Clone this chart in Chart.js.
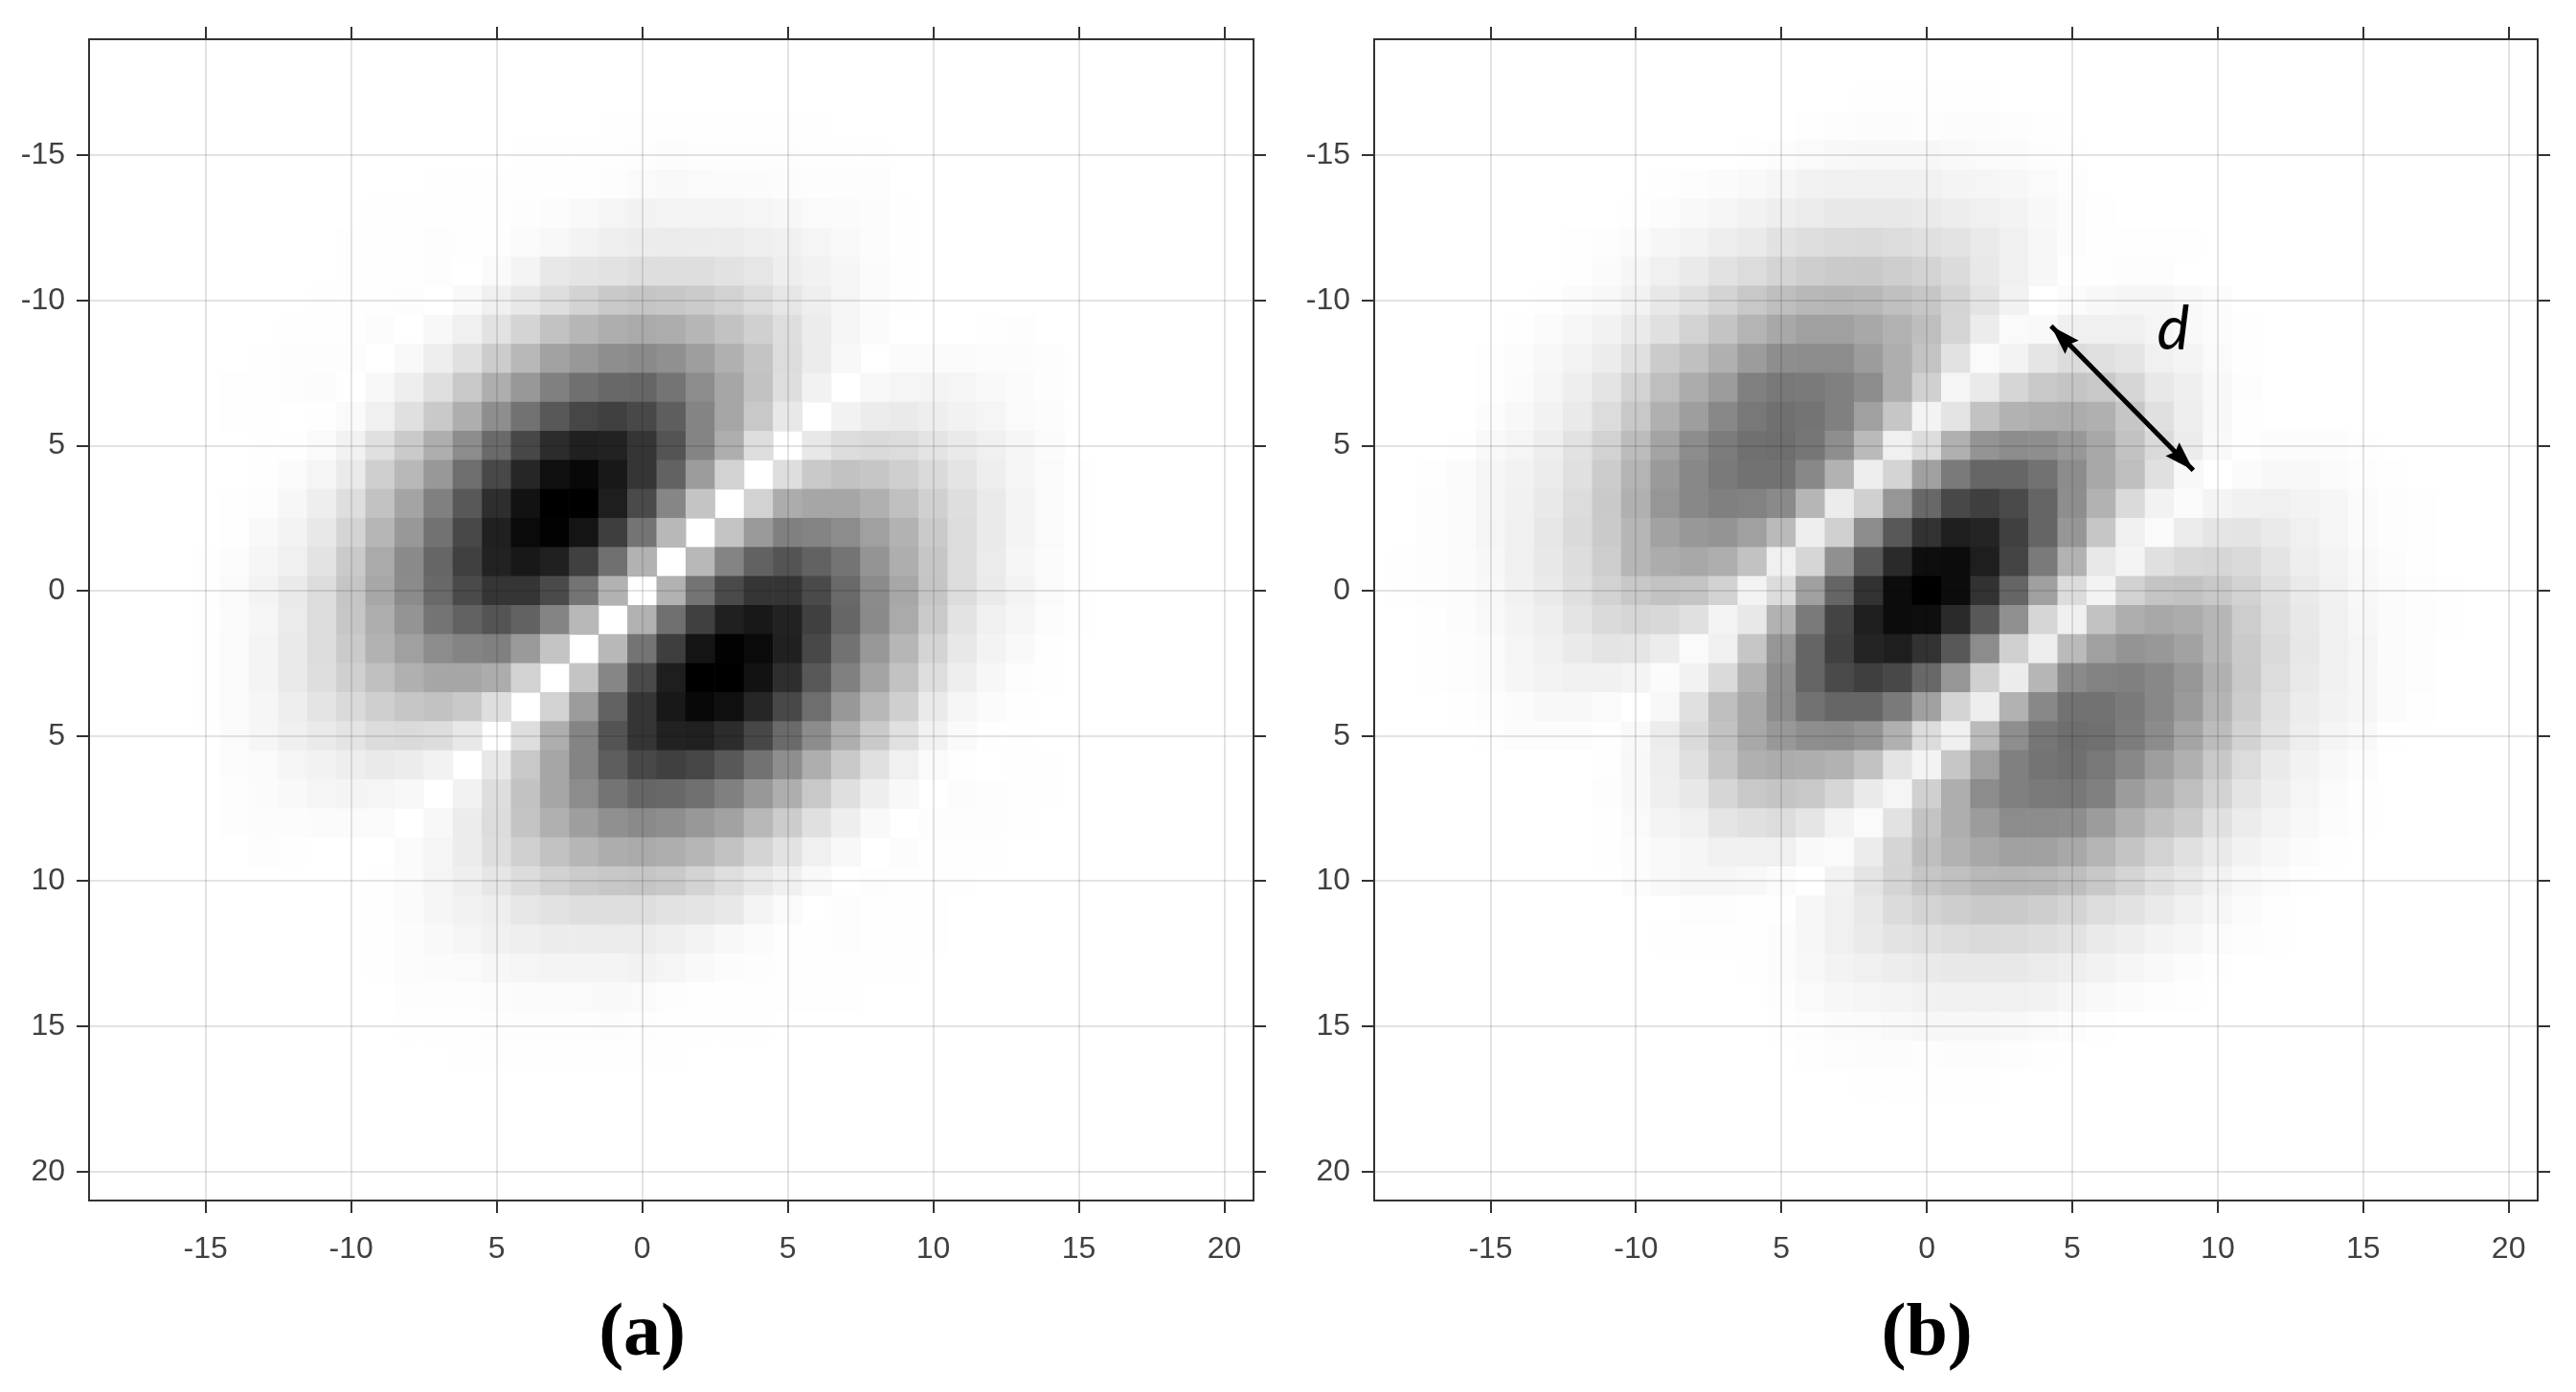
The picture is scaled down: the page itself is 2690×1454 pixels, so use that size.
<!DOCTYPE html>
<html>
<head>
<meta charset="utf-8">
<title>Panels a and b</title>
<script src="https://cdn.jsdelivr.net/npm/chart.js"></script>
<style>
    html, body { margin: 0; padding: 0; background: #fff; }
    canvas { position: absolute; top: 0; }
</style>
</head>
<body>
<canvas id="panelA" width="1345" height="1454" style="left:0"></canvas>
<canvas id="panelB" width="1345" height="1454" style="left:1345px"></canvas>
<script>
    // Axis ticks (the original figure prints 5 where -5 would be)
    var tickValues = [-15, -10, -5, 0, 5, 10, 15, 20];
    var tickLabels = ['-15', '-10', '5', '0', '5', '10', '15', '20'];
    var captions = ['(a)', '(b)'];

    // Row positions on the y axis
    var rowYA = [-16,-15,-14,-13,-12,-11,-10,-9,-8,-7,-6,-5,-4,-3,-2,-1,0,1,2,3,4,5,6,7,8,9,10,11,12,13,14,15,16];
    var rowYB = [-17,-16,-15,-14,-13,-12,-11,-10,-9,-8,-7,-6,-5,-4,-3,-2,-1,0,1,2,3,4,5,6,7,8,9,10,11,12,13,14,15,16,17];

    // x of the first cell in each row
    var rowStartA = [-1,-4,-7,-9,-10,-10,-11,-12,-13,-14,-14,-13,-13,-14,-14,-15,-15,-15,-15,-15,-15,-14,-14,-14,-14,-13,-9,-9,-9,-9,-8,-8,-6];
    var rowStartB = [-2,-4,-6,-9,-10,-12,-12,-13,-14,-15,-15,-15,-16,-17,-17,-17,-18,-18,-18,-17,-17,-16,-15,-11,-11,-11,-11,-10,-8,-9,-6,-5,-5,-4,-2];

    // Intensity of each cell (0 white, 255 black)
    var levelsA = [
        [1,1,1,1,1,1,1,1],
        [1,1,1,1,2,3,2,2,2,2,1,1,1],
        [1,1,1,1,1,1,2,5,6,5,4,4,3,2,2,2],
        [1,1,1,1,1,2,3,6,10,13,11,11,11,10,8,5,4,3,1],
        [1,1,1,2,1,1,4,7,12,16,19,20,19,19,16,14,10,6,3,1],
        [1,1,1,2,0,5,11,23,27,29,33,33,33,29,25,17,13,9,4,1],
        [1,1,1,2,0,6,15,23,33,44,54,58,56,52,45,35,25,16,10,4,1],
        [1,1,1,3,0,7,15,29,43,61,73,81,85,82,73,61,47,33,19,10,4,0,0,0,1,2],
        [1,2,2,2,0,6,17,31,51,71,93,103,113,117,111,97,79,59,35,19,7,0,4,4,4,3,3,2],
        [1,1,2,3,0,7,17,32,55,81,103,127,143,151,153,139,115,89,61,33,13,0,7,10,11,10,6,4,2],
        [1,1,0,1,5,15,31,54,81,113,141,167,185,191,183,161,123,89,55,23,0,13,19,21,17,13,10,5,3],
        [1,1,5,13,31,53,81,115,149,184,211,223,221,202,171,123,81,33,0,23,34,37,35,27,21,15,9,4],
        [1,4,10,21,48,71,103,145,183,217,240,247,231,202,157,100,45,0,33,54,61,57,48,37,27,17,9,5,1],
        [1,2,8,17,33,61,91,127,167,209,237,255,255,225,181,121,59,0,45,83,89,89,79,63,47,33,21,11,5,1],
        [1,6,12,23,43,73,103,141,183,223,245,253,235,193,139,71,0,59,101,127,123,115,95,77,53,35,21,11,5,1],
        [1,3,9,15,28,53,85,117,153,191,221,231,223,191,143,77,0,71,123,157,171,157,139,107,81,57,35,20,9,4,1],
        [1,5,12,21,35,58,88,116,150,181,202,202,181,139,77,0,77,139,181,202,202,181,150,116,88,58,35,21,12,5,1],
        [1,4,9,20,35,57,81,107,139,157,171,157,123,71,0,77,143,191,223,231,221,191,153,117,85,53,28,15,9,3,1],
        [1,5,11,21,35,53,77,95,115,123,127,101,59,0,71,139,193,235,253,245,223,183,141,103,73,43,23,12,6,1],
        [1,5,11,21,33,47,63,79,89,89,83,45,0,59,121,181,225,255,255,237,209,167,127,91,61,33,17,8,2,1],
        [1,5,9,17,27,37,48,57,61,54,33,0,45,100,157,202,231,247,240,217,183,145,103,71,48,21,10,4,1],
        [4,9,15,21,27,35,37,34,23,0,33,81,123,171,202,221,223,211,184,149,115,81,53,31,13,5,1,1],
        [3,5,10,13,17,21,19,13,0,23,55,89,123,161,183,191,185,167,141,113,81,54,31,15,5,1,0,1,1],
        [2,4,6,10,11,10,7,0,13,33,61,89,115,139,153,151,143,127,103,81,55,32,17,7,0,3,2,1,1],
        [2,3,3,4,4,4,0,7,19,35,59,79,97,111,117,113,103,93,71,51,31,17,6,0,2,2,2,1],
        [2,1,0,0,0,4,10,19,33,47,61,73,82,85,81,73,61,43,29,15,7,0,3,1,1,1],
        [1,4,10,16,25,35,45,52,56,58,54,44,33,23,15,6,0,2,1,1,1],
        [1,4,9,13,17,25,29,33,33,33,29,27,23,11,5,0,2,1,1,1],
        [1,3,6,10,14,16,19,19,20,19,16,12,7,4,1,1,2,1,1,1],
        [1,3,4,5,8,10,11,11,11,13,10,6,3,2,1,1,1,1,1],
        [2,2,2,3,4,4,5,6,5,2,1,1,1,1,1,1],
        [1,1,1,2,2,2,2,3,2,1,1,1,1],
        [1,1,1,1,1,1,1,1]
    ];
    var levelsB = [
        [1,1,1,1,1],
        [1,2,3,3,2,3,3,2,1],
        [1,3,5,7,8,8,8,6,5,4,2,1],
        [1,2,4,6,9,13,15,15,15,14,11,10,8,5,2],
        [1,3,6,9,13,17,20,23,23,23,21,18,15,12,7,3,1],
        [1,2,4,9,12,17,21,29,33,36,37,35,31,28,21,15,8,3,1,1,1,1],
        [1,4,9,15,21,29,35,43,49,53,54,49,44,36,23,15,8,1,1,2,2],
        [1,4,7,13,23,31,43,55,65,71,73,71,63,57,43,27,13,0,4,7,9,9,6,3],
        [1,4,8,13,21,31,45,59,75,87,95,95,87,77,65,42,19,5,6,15,15,15,10,6,3,1],
        [1,3,7,12,19,31,52,63,79,99,113,115,115,99,81,60,29,5,12,26,35,31,26,15,11,5,1],
        [1,4,10,17,27,45,65,83,99,127,135,133,127,115,81,47,10,21,41,55,59,55,41,23,16,7,2],
        [3,7,13,21,35,55,79,97,119,135,143,139,127,95,57,12,27,61,77,81,83,79,57,31,17,7,1],
        [1,6,10,17,29,45,67,91,115,131,143,145,137,113,69,15,35,79,107,115,113,103,87,61,37,19,6,1,3,3,3,1],
        [1,4,9,13,19,31,51,75,101,119,133,141,141,119,77,17,43,95,133,153,153,141,115,87,65,31,7,0,4,7,7,4,2,1],
        [2,4,9,14,22,35,54,79,105,119,127,125,117,73,19,47,105,151,183,192,181,154,113,77,37,13,4,11,14,15,12,9,4,2,1],
        [2,4,10,15,24,37,53,73,93,103,107,95,69,17,47,115,167,205,225,219,191,154,105,57,15,5,19,26,27,21,15,10,4,2,1],
        [1,2,4,8,15,23,34,50,73,83,87,81,61,15,41,111,167,213,241,243,225,187,133,77,23,11,31,39,41,37,27,17,12,6,3,1,0],
        [1,2,4,7,14,21,32,45,55,61,59,45,12,35,95,154,205,243,255,243,205,154,95,35,12,45,59,61,55,45,32,21,14,7,4,2,1],
        [0,1,3,6,12,17,27,37,41,39,31,11,23,77,133,187,225,243,241,213,167,111,41,15,61,81,87,83,73,50,34,23,15,8,4,2,1],
        [1,2,4,10,15,21,27,26,19,5,15,57,105,154,191,219,225,205,167,115,47,17,69,95,107,103,93,73,53,37,24,15,10,4,2],
        [1,2,4,9,12,15,14,11,4,13,37,77,113,154,181,192,183,151,105,47,19,73,117,125,127,119,105,79,54,35,22,14,9,4,2],
        [1,2,4,7,7,4,0,7,31,65,87,115,141,153,153,133,95,43,17,77,119,141,141,133,119,101,75,51,31,19,13,9,4,1],
        [1,3,3,3,1,6,19,37,61,87,103,113,115,107,79,35,15,69,113,137,145,143,131,115,91,67,45,29,17,10,6,1],
        [1,7,17,31,57,79,83,81,77,61,27,12,57,95,127,139,143,135,119,97,79,55,35,21,13,7,3],
        [2,7,16,23,41,55,59,55,41,21,10,47,81,115,127,133,135,127,99,83,65,45,27,17,10,4,1],
        [1,5,11,15,26,31,35,26,12,5,29,60,81,99,115,115,113,99,79,63,52,31,19,12,7,3,1],
        [1,3,6,10,15,15,15,6,5,19,42,65,77,87,95,95,87,75,59,45,31,21,13,8,4,1],
        [3,6,9,9,7,4,0,13,27,43,57,63,71,73,71,65,55,43,31,23,13,7,4,1],
        [2,2,1,1,8,15,23,36,44,49,54,53,49,43,35,29,21,15,9,4,1],
        [1,1,1,1,3,8,15,21,28,31,35,37,36,33,29,21,17,12,9,4,2,1],
        [1,3,7,12,15,18,21,23,23,23,20,17,13,9,6,3,1],
        [2,5,8,10,11,14,15,15,15,13,9,6,4,2,1],
        [1,2,4,5,6,8,8,8,7,5,3,1],
        [1,2,3,3,2,3,3,2,1],
        [1,1,1,1,1]
    ];

    // Double arrow and its label in panel b, in axis units
    var arrowX = [4.27, 9.16];
    var arrowY = [-9.12, -4.15];
    var arrowLabel = 'd';
    var arrowLabelX = 8.47;
    var arrowLabelY = -8.32;

    var axisColor = '#333333';
    var textColor = '#404040';
    var gridColor = 'rgba(0, 0, 0, 0.11)';

    function montarCelulas(rowY, rowStart, levels) {
        var cells = [];
        levels.forEach(function(row, i) {
            row.forEach(function(v, j) {
                if (v > 0) {
                    cells.push({ x: rowStart[i] + j, y: rowY[i], v: v });
                }
            });
        });
        return cells;
    }

    // One axis, ticks at the listed values only
    function eixo(position, showLabels, drawGrid, size) {
        var horizontal = position === 'top' || position === 'bottom';
        return {
            type: 'linear',
            position: position,
            min: horizontal ? -19 : undefined,
            max: horizontal ? 21 : undefined,
            afterBuildTicks: function(scale) {
                scale.ticks = tickValues.map(function(v) { return { value: v }; });
            },
            afterFit: function(scale) {
                if (horizontal) { scale.height = size; } else { scale.width = size; }
            },
            ticks: {
                display: showLabels,
                autoSkip: false,
                maxRotation: 0,
                padding: horizontal ? 19 : 12,
                color: textColor,
                font: { family: '"Liberation Sans"', size: 32 },
                callback: function(value) {
                    return tickLabels[tickValues.indexOf(value)];
                }
            },
            grid: {
                z: 1,
                color: gridColor,
                lineWidth: 2,
                drawOnChartArea: drawGrid,
                tickColor: axisColor,
                tickWidth: 2,
                tickLength: 13
            },
            border: { display: true, color: axisColor, width: 2, z: 1 }
        };
    }

    function eixoY(position, showLabels, drawGrid, size) {
        var axis = eixo(position, showLabels, drawGrid, size);
        axis.min = -19;
        axis.max = 21;
        axis.reverse = true;
        return axis;
    }

    function raioCelula(ctx) {
        var x = ctx.chart.scales.x;
        var side = x.getPixelForValue(1) - x.getPixelForValue(0) + 0.6;
        return side / Math.SQRT2;
    }

    function desenharPonta(ctx, tipX, tipY, fromX, fromY) {
        var a = Math.atan2(tipY - fromY, tipX - fromX);
        ctx.save();
        ctx.translate(tipX, tipY);
        ctx.rotate(a);
        ctx.beginPath();
        ctx.moveTo(0, 0);
        ctx.lineTo(-31, 10);
        ctx.lineTo(-27, 0);
        ctx.lineTo(-31, -10);
        ctx.closePath();
        ctx.fillStyle = '#000';
        ctx.fill();
        ctx.restore();
    }

    // Caption under each panel, plus the arrow heads and d on panel b
    var extrasPlugin = {
        id: 'extras',
        afterDraw: function(chart, args, opts) {
            var ctx = chart.ctx;
            var x = chart.scales.x;
            var y = chart.scales.y;
            ctx.save();
            ctx.fillStyle = '#000';
            ctx.textAlign = 'center';
            ctx.textBaseline = 'alphabetic';
            ctx.font = 'bold 78px "Liberation Serif"';
            ctx.fillText(opts.caption, x.getPixelForValue(0), 1415);
            if (opts.arrow) {
                var x0 = x.getPixelForValue(arrowX[0]);
                var y0 = y.getPixelForValue(arrowY[0]);
                var x1 = x.getPixelForValue(arrowX[1]);
                var y1 = y.getPixelForValue(arrowY[1]);
                desenharPonta(ctx, x0, y0, x1, y1);
                desenharPonta(ctx, x1, y1, x0, y0);
                ctx.font = 'italic 64px Lato';
                ctx.fillText(arrowLabel, x.getPixelForValue(arrowLabelX), y.getPixelForValue(arrowLabelY));
            }
            ctx.restore();
        }
    };

    function criarPainel(canvasId, cells, caption, withArrow, left, right) {
        var datasets = [{
            data: cells,
            order: 2,
            pointStyle: 'rect',
            pointBorderWidth: 0,
            pointRadius: raioCelula,
            pointBackgroundColor: function(ctx) {
                var g = 255 - ctx.raw.v;
                return 'rgb(' + g + ',' + g + ',' + g + ')';
            }
        }];
        if (withArrow) {
            datasets.push({
                type: 'line',
                data: [{ x: arrowX[0], y: arrowY[0] }, { x: arrowX[1], y: arrowY[1] }],
                order: 1,
                borderColor: '#000',
                borderWidth: 5,
                pointRadius: 0
            });
        }
        new Chart(document.getElementById(canvasId), {
            type: 'scatter',
            data: { datasets: datasets },
            plugins: [extrasPlugin],
            options: {
                responsive: false,
                animation: false,
                devicePixelRatio: 1,
                events: [],
                layout: { padding: 0 },
                scales: {
                    x: eixo('bottom', true, true, 200),
                    x2: eixo('top', false, false, 41),
                    y: eixoY('left', true, true, left),
                    y2: eixoY('right', false, false, right)
                },
                plugins: {
                    legend: { display: false },
                    tooltip: { enabled: false },
                    extras: { caption: caption, arrow: withArrow }
                }
            }
        });
    }

    criarPainel('panelA', montarCelulas(rowYA, rowStartA, levelsA), captions[0], false, 93, 36);
    criarPainel('panelB', montarCelulas(rowYB, rowStartB, levelsB), captions[1], true, 90, 40);
</script>
</body>
</html>
